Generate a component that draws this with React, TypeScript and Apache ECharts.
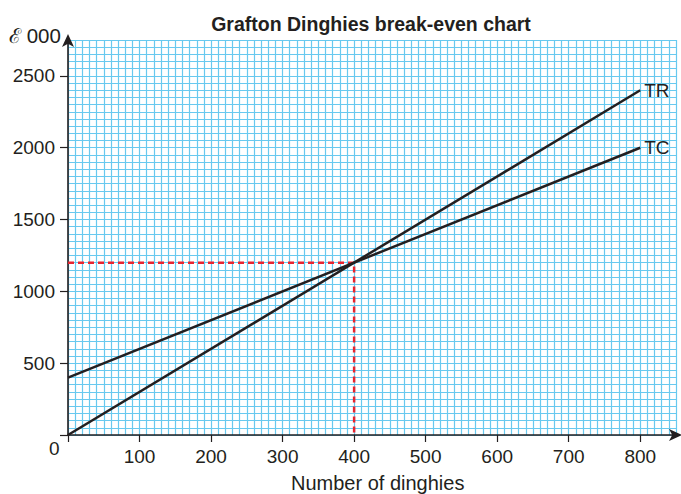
import React, { useEffect, useRef } from "react";
import * as echarts from "echarts";

const units = [0, 800];
const totalRevenue = [0, 2400];
const totalCost = [400, 2000];
const breakEvenUnits = 400;
const breakEvenValue = 1200;
const xTickValues = [0, 100, 200, 300, 400, 500, 600, 700, 800];
const xLabelValues = [100, 200, 300, 400, 500, 600, 700, 800];
const yTickValues = [0, 500, 1000, 1500, 2000, 2500];
const yLabelValues = [500, 1000, 1500, 2000, 2500];

const FONT = "'Liberation Sans', Arial, Helvetica, sans-serif";
const INK = "#231f20";
const GRIDBLUE = "#68c9ef";
const X_MAX = 850;
const Y_MAX = 2750;

export default function App() {
  const ref = useRef<HTMLDivElement>(null);
  useEffect(() => {
    if (!ref.current) return;
    const chart = echarts.init(ref.current, null, { renderer: "svg" });
    const axisLine = {
      show: true,
      onZero: false,
      symbol: ["none", "arrow"],
      symbolSize: [9, 13],
      symbolOffset: [0, 6],
      lineStyle: { color: INK, width: 1.6 },
    };
    chart.setOption({
      animation: false,
      backgroundColor: "#ffffff",
      textStyle: { fontFamily: FONT },
      title: {
        text: "Grafton Dinghies break-even chart",
        left: 366,
        textAlign: "center",
        top: 9,
        textStyle: { fontFamily: FONT, fontSize: 19.5, fontWeight: "bold", color: INK },
      },
      grid: { left: 68, right: 5, top: 40, bottom: 59, containLabel: false },
      xAxis: [
        {
          type: "value",
          min: 0,
          max: X_MAX,
          interval: 10,
          splitLine: { show: true, lineStyle: { color: GRIDBLUE, width: 1.2 } },
          axisLine: { show: false },
          axisTick: { show: false },
          axisLabel: { show: false },
        },
        {
          type: "value",
          min: 0,
          max: X_MAX,
          position: "bottom",
          splitLine: { show: false },
          axisLine,
          axisTick: { show: true, length: 7, customValues: xTickValues, lineStyle: { color: INK, width: 1.2 } },
          axisLabel: {
            customValues: xLabelValues,
            formatter: (v: number) => String(v),
            margin: 12,
            fontSize: 19,
            color: INK,
            fontFamily: FONT,
          },
        },
      ],
      yAxis: [
        {
          type: "value",
          min: 0,
          max: Y_MAX,
          interval: 50,
          splitLine: { show: true, lineStyle: { color: GRIDBLUE, width: 1.2 } },
          axisLine: { show: false },
          axisTick: { show: false },
          axisLabel: { show: false },
        },
        {
          type: "value",
          min: 0,
          max: Y_MAX,
          position: "left",
          splitLine: { show: false },
          axisLine,
          axisTick: { show: true, length: 8, customValues: yTickValues, lineStyle: { color: INK, width: 1.2 } },
          axisLabel: {
            customValues: yLabelValues,
            formatter: (v: number) => String(v),
            margin: 13,
            fontSize: 19,
            color: INK,
            fontFamily: FONT,
          },
        },
      ],
      graphic: [
        {
          type: "text",
          left: 49,
          top: 439,
          style: { text: "0", fontSize: 19, fill: INK, fontFamily: FONT },
        },
        {
          type: "text",
          left: 9,
          top: 25,
          style: { text: "ℰ 000", fontSize: 20.5, fill: INK, fontFamily: FONT },
        },
        {
          type: "text",
          left: 291,
          top: 473,
          style: { text: "Number of dinghies", fontSize: 20, fill: INK, fontFamily: FONT },
        },
      ],
      series: [
        {
          name: "Break-even",
          type: "line",
          xAxisIndex: 0,
          yAxisIndex: 0,
          showSymbol: false,
          symbol: "none",
          data: [
            [0, breakEvenValue],
            [breakEvenUnits, breakEvenValue],
            [breakEvenUnits, 0],
          ],
          lineStyle: { color: "#e8242f", width: 2.5, type: [6, 4] },
          z: 3,
        },
        {
          name: "TR",
          type: "line",
          xAxisIndex: 0,
          yAxisIndex: 0,
          showSymbol: false,
          symbol: "none",
          data: units.map((u, i) => [u, totalRevenue[i]]),
          lineStyle: { color: INK, width: 2.5 },
          endLabel: { show: true, formatter: "TR", fontSize: 19, color: INK, fontFamily: FONT, distance: 4 },
          z: 4,
        },
        {
          name: "TC",
          type: "line",
          xAxisIndex: 0,
          yAxisIndex: 0,
          showSymbol: false,
          symbol: "none",
          data: units.map((u, i) => [u, totalCost[i]]),
          lineStyle: { color: INK, width: 2.5 },
          endLabel: { show: true, formatter: "TC", fontSize: 19, color: INK, fontFamily: FONT, distance: 4 },
          z: 4,
        },
      ],
    });
    return () => chart.dispose();
  }, []);
  return (
    <div
      ref={ref}
      style={{ position: "absolute", left: 0, top: 0, width: 681, height: 494 }}
    />
  );
}
